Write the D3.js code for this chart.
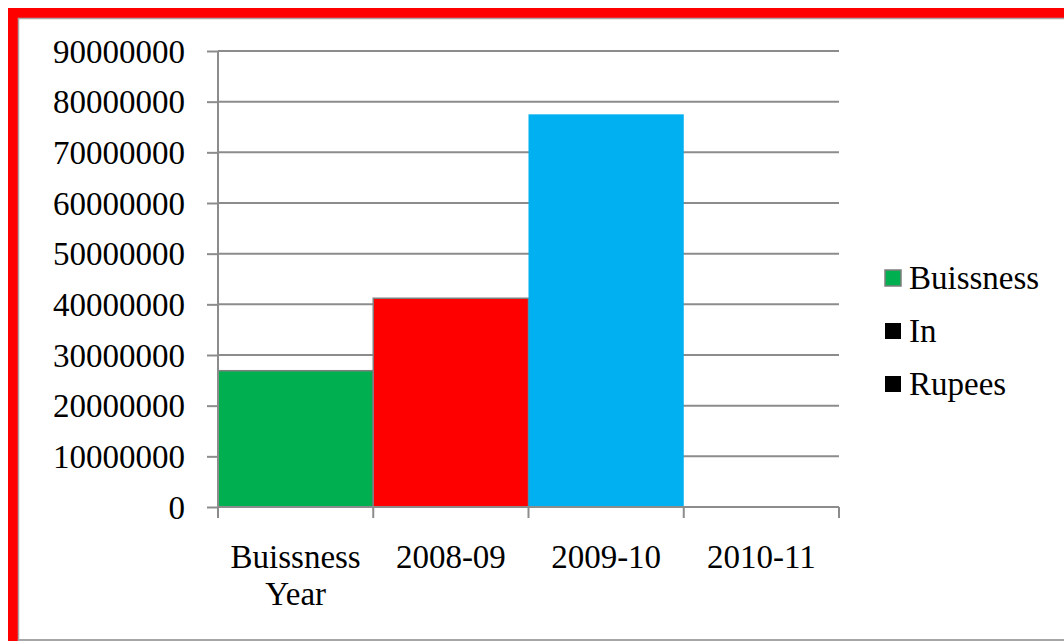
<!DOCTYPE html>
<html>
<head>
<meta charset="utf-8">
<script src="https://cdn.jsdelivr.net/npm/d3@7"></script>
<style>
  body { margin: 0; background: #fff; }
  text { font-family: "Liberation Serif", "DejaVu Serif", serif; fill: #000; }
</style>
</head>
<body>
<div id="chart"></div>
<script>
var categories = ["Buissness Year", "2008-09", "2009-10", "2010-11"];
var values = [26900000, 41200000, 77500000, null];
var barColors = ["#00b050", "#ff0000", "#00b0f0", "#ffffff"];
var yTicks = [0, 10000000, 20000000, 30000000, 40000000, 50000000, 60000000, 70000000, 80000000, 90000000];
var legendNames = ["Buissness", "In", "Rupees"];
var legendColors = ["#00b050", "#000000", "#000000"];

var W = 1064, H = 641;
var margin = {top: 51, right: 225, bottom: 134, left: 218};
var width = W - margin.left - margin.right,
    height = H - margin.top - margin.bottom;

var svg = d3.select("#chart").append("svg")
  .attr("width", W)
  .attr("height", H);

// red frame on left and top, gray inner edge
svg.append("rect").attr("x", 8).attr("y", 8).attr("width", W - 8).attr("height", 10).attr("fill", "#ff0000");
svg.append("rect").attr("x", 8).attr("y", 8).attr("width", 10).attr("height", H - 8).attr("fill", "#ff0000");
svg.append("path")
  .attr("d", "M18.5," + H + "V18.5H" + W)
  .attr("fill", "none").attr("stroke", "#a6a6a6").attr("stroke-width", 1.5);
svg.append("line")
  .attr("x1", 18).attr("x2", W).attr("y1", H - 1).attr("y2", H - 1)
  .attr("stroke", "#a6a6a6").attr("stroke-width", 2);

var g = svg.append("g").attr("transform", "translate(" + margin.left + "," + margin.top + ")");

var x = d3.scaleBand().domain(categories).range([0, width]).padding(0);
var y = d3.scaleLinear().domain([0, 90000000]).range([height, 0]);

var gridColor = "#8c8c8c";

// gridlines
g.append("g").selectAll("line")
  .data(yTicks)
  .enter().append("line")
  .attr("x1", 0).attr("x2", width)
  .attr("y1", d => y(d)).attr("y2", d => y(d))
  .attr("stroke", gridColor).attr("stroke-width", 2);

// bars
g.append("g").selectAll("rect")
  .data(categories.map((c, i) => ({c: c, v: values[i], col: barColors[i], i: i})).filter(d => d.v != null))
  .enter().append("rect")
  .attr("x", d => x(d.c))
  .attr("y", d => y(d.v))
  .attr("width", x.bandwidth())
  .attr("height", d => height - y(d.v))
  .attr("fill", d => d.col)
  .attr("stroke", d => d.i < 2 ? "#7f7f7f" : "none")
  .attr("stroke-width", 1.5);

// y axis
var yAxis = g.append("g")
  .call(d3.axisLeft(y).tickValues(yTicks).tickFormat(d3.format("d")).tickSize(11).tickPadding(22));
yAxis.select(".domain").attr("stroke", gridColor).attr("stroke-width", 2).attr("d", "M0," + height + "V0");
yAxis.selectAll(".tick line").attr("stroke", gridColor).attr("stroke-width", 2);
yAxis.selectAll(".tick text")
  .style("font-family", '"Liberation Serif", serif')
  .style("font-size", "33px")
  .attr("dy", "0.34em");

// x axis
var xAxis = g.append("g")
  .attr("transform", "translate(0," + height + ")")
  .call(d3.axisBottom(x).tickSize(0).tickFormat(""));
xAxis.select(".domain").attr("stroke", gridColor).attr("stroke-width", 2).attr("d", "M0,0H" + width);
xAxis.selectAll(".tick").remove();

var edges = categories.map(c => x(c)).concat([width]);
g.append("g").selectAll("line")
  .data(edges)
  .enter().append("line")
  .attr("x1", d => d).attr("x2", d => d)
  .attr("y1", height).attr("y2", height + 11)
  .attr("stroke", gridColor).attr("stroke-width", 2);

var xl = g.append("g").selectAll("text")
  .data(categories)
  .enter().append("text")
  .attr("x", d => x(d) + x.bandwidth() / 2)
  .attr("y", height + 61)
  .attr("text-anchor", "middle")
  .style("font-size", "33px");
xl.each(function(d) {
  var words = d.split(" ");
  var t = d3.select(this);
  words.forEach(function(w, i) {
    t.append("tspan")
      .attr("x", x(d) + x.bandwidth() / 2)
      .attr("dy", i === 0 ? 0 : 37)
      .text(w);
  });
});

// legend
var leg = svg.append("g").attr("transform", "translate(885,278)");
var items = leg.selectAll("g")
  .data(legendNames)
  .enter().append("g")
  .attr("transform", (d, i) => "translate(0," + i * 53 + ")");
items.append("rect")
  .attr("x", 0).attr("y", -8)
  .attr("width", 16).attr("height", 16)
  .attr("fill", (d, i) => legendColors[i])
  .attr("stroke", (d, i) => i === 0 ? "#7f7f7f" : "none")
  .attr("stroke-width", 1.5);
items.append("text")
  .attr("x", 24).attr("y", 0)
  .attr("dy", "0.34em")
  .style("font-size", "33px")
  .text(d => d);
</script>
</body>
</html>
